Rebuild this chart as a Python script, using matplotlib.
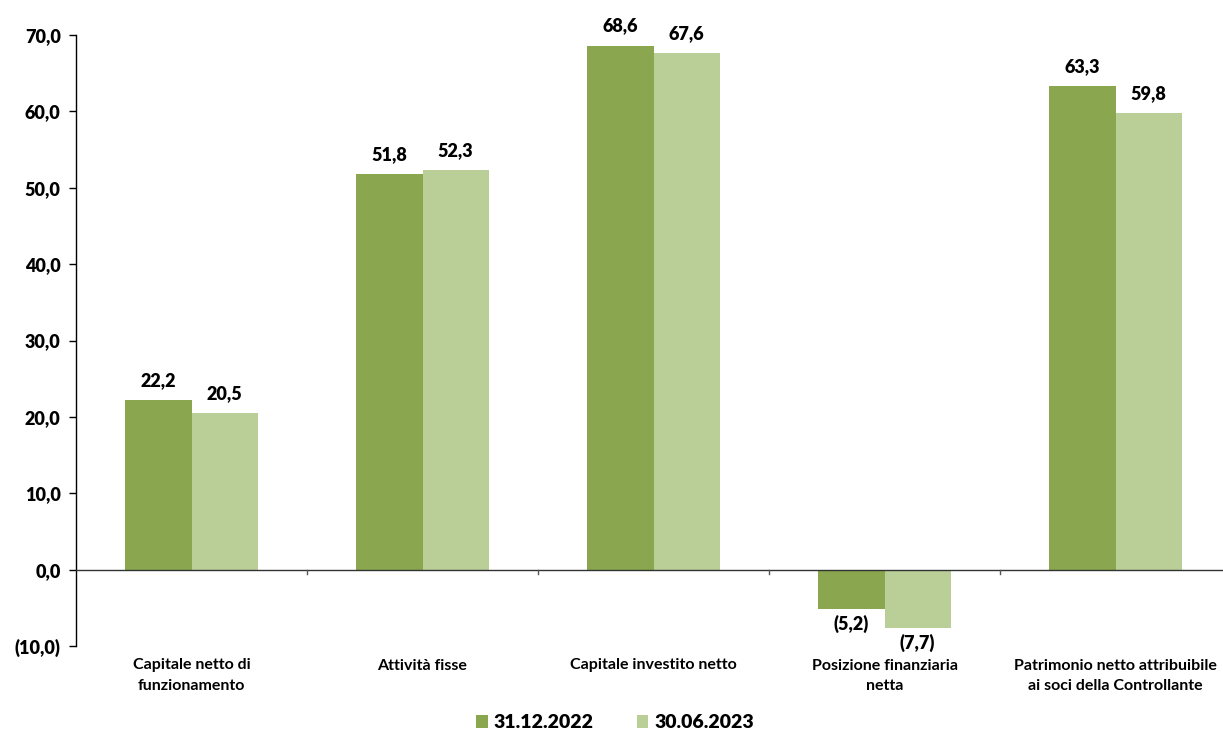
import matplotlib.pyplot as plt
import numpy as np

plt.rcParams["font.family"] = ["Lato", "DejaVu Sans"]

categories = [
    "Capitale netto di\nfunzionamento",
    "Attività fisse",
    "Capitale investito netto",
    "Posizione finanziaria\nnetta",
    "Patrimonio netto attribuibile\nai soci della Controllante",
]
series_names = ["31.12.2022", "30.06.2023"]
values_2022 = [22.2, 51.8, 68.6, -5.2, 63.3]
values_2023 = [20.5, 52.3, 67.6, -7.7, 59.8]
y_ticks = [-10, 0, 10, 20, 30, 40, 50, 60, 70]

DARK = "#8AA64E"
LIGHT = "#BACF98"


def fmt(v):
    s = f"{abs(v):.1f}".replace(".", ",")
    return f"({s})" if v < 0 else s


fig = plt.figure(figsize=(12.23, 7.31), dpi=100)
ax = fig.add_axes([76 / 1223, 85 / 731, 1155 / 1223, 611 / 731])

x = np.arange(len(categories))
w = 0.286
b1 = ax.bar(x - w / 2, values_2022, w, color=DARK, label=series_names[0], zorder=2)
b2 = ax.bar(x + w / 2, values_2023, w, color=LIGHT, label=series_names[1], zorder=2)

for bars, vals in ((b1, values_2022), (b2, values_2023)):
    for rect, v in zip(bars, vals):
        cx = rect.get_x() + rect.get_width() / 2
        if v >= 0:
            ax.annotate(fmt(v), (cx, v), xytext=(0, 8), textcoords="offset points",
                        ha="center", va="bottom", fontsize=13, fontweight="heavy")
        else:
            ax.annotate(fmt(v), (cx, v), xytext=(0, -4), textcoords="offset points",
                        ha="center", va="top", fontsize=13, fontweight="heavy")

ax.set_xlim(-0.5, len(categories) - 0.5)
ax.set_ylim(-10, 70)
ax.set_yticks(y_ticks)
ax.set_yticklabels([fmt(t) for t in y_ticks], fontsize=13, fontweight="heavy")
ax.tick_params(axis="y", length=5, width=1, pad=6)

for s in ("top", "right", "bottom"):
    ax.spines[s].set_visible(False)
ax.spines["left"].set_linewidth(1)

# zero line with category separator ticks
ax.axhline(0, color="#333333", lw=1, zorder=3)
ax.set_xticks([])
for b in np.arange(0.5, len(categories) - 0.5, 1):
    ax.plot([b, b], [0, -0.6], color="#555555", lw=1, clip_on=False, zorder=3)

for xi, cat in zip(x, categories):
    ax.annotate(cat, (xi, -10), xytext=(0, -9), textcoords="offset points",
                ha="center", va="top", fontsize=11.5, fontweight="bold",
                linespacing=1.6, annotation_clip=False)

leg = fig.legend(handles=[b1, b2], labels=series_names, loc="center",
                 bbox_to_anchor=(615 / 1223, 1 - 723 / 731), ncol=2, frameon=False,
                 prop={"size": 14, "weight": "heavy"}, handlelength=0.6,
                 handleheight=0.6, handletextpad=0.3, columnspacing=2.2)

fig.savefig("out.png", dpi=100)
